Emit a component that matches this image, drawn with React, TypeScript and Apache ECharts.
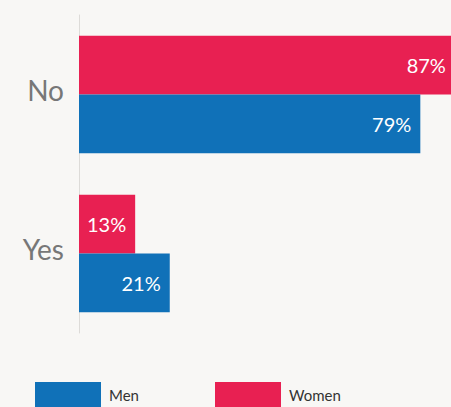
import React, { useEffect, useRef } from "react";
import * as echarts from "echarts";

const categories = ["No", "Yes"];
const menValues = [79, 21];
const womenValues = [87, 13];
const seriesNames = ["Men", "Women"];

const BLUE = "#1071b8";
const RED = "#e82052";

export default function App() {
  const ref = useRef<HTMLDivElement>(null);
  useEffect(() => {
    if (!ref.current) return;
    const chart = echarts.init(ref.current, null, { renderer: "svg" });
    const font = "Lato";
    const label = {
      show: true,
      position: "insideRight",
      distance: 9,
      color: "#ffffff",
      fontSize: 20,
      fontFamily: font,
      formatter: (p: any) => p.value + "%",
    };
    const legendText = { color: "#333333", fontSize: 15, fontFamily: font, padding: [0, 0, 0, 3] };
    chart.setOption({
      animation: false,
      backgroundColor: "#f8f7f5",
      grid: { left: 79, top: 15, right: 0, height: 318, containLabel: false },
      xAxis: {
        type: "value",
        min: 0,
        max: 86.1,
        show: false,
        splitLine: { show: false },
      },
      yAxis: {
        type: "category",
        data: categories,
        inverse: true,
        axisLine: { show: true, lineStyle: { color: "#dddbd8", width: 1 } },
        axisTick: { show: false },
        axisLabel: {
          margin: 15,
          formatter: "{a|{value}}",
          rich: {
            a: {
              color: "#777777",
              fontSize: 28,
              fontFamily: font,
              padding: [0, 0, 10, 0],
            },
          },
        },
      },
      legend: [
        {
          data: [seriesNames[0]],
          left: 30,
          top: 377,
          itemWidth: 66,
          itemHeight: 25,
          icon: "rect",
          textStyle: legendText,
        },
        {
          data: [seriesNames[1]],
          left: 210,
          top: 377,
          itemWidth: 66,
          itemHeight: 25,
          icon: "rect",
          textStyle: legendText,
        },
      ],
      series: [
        {
          name: seriesNames[1],
          type: "bar",
          data: womenValues,
          itemStyle: { color: RED },
          barGap: "0%",
          barCategoryGap: "26%",
          clip: false,
          label,
        },
        {
          name: seriesNames[0],
          type: "bar",
          data: menValues,
          itemStyle: { color: BLUE },
          barGap: "0%",
          barCategoryGap: "26%",
          clip: false,
          label,
        },
      ],
    });
    return () => chart.dispose();
  }, []);
  return (
    <div
      ref={ref}
      style={{ position: "absolute", left: 0, top: 0, width: 451, height: 407 }}
    />
  );
}
